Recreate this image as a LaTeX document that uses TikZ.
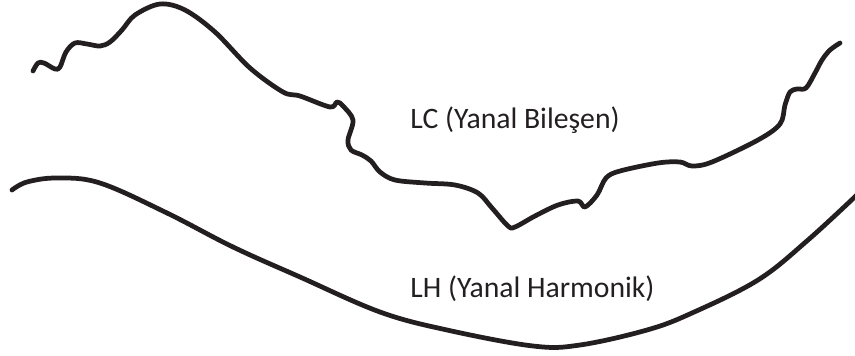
\documentclass[tikz,border=0pt]{standalone}
\usepackage{fontspec}
\setmainfont{Carlito}
\usepackage{xcolor}
\usepackage{tikz}
\definecolor{murekkep}{HTML}{231F20}

\begin{document}
\begin{tikzpicture}[
    x=0.02cm, y=-0.02cm,
    egri/.style={draw=murekkep, line width=2.7pt, line cap=round,
                 line join=round},
    etiket/.style={anchor=base west, inner sep=0pt, text=murekkep,
                   font=\fontsize{16.9}{19}\selectfont}
  ]
    \useasboundingbox (0,0) rectangle (855,355);
    % LC: yanal bilesen
    \draw[egri] plot[smooth, tension=0.55] coordinates {
      (33,71) (38,63) (44,63) (55,69) (60,67) (66,52) (75,43) (87,44)
      (100,46) (110,42) (122,30) (135,15) (160,4) (185,10) (215,32)
      (250,68) (283,92) (300,96) (330,107) (337,102) (343,106) (353,120)
      (348,140) (351,150) (362,155) (371,161) (380,172) (395,180)
      (425,183) (455,185) (478,193) (492,208) (508,226) (515,227)
      (535,216) (558,205) (578,201) (585,207) (597,195) (606,178)
      (620,171) (658,163) (680,162) (692,166) (712,162) (758,140)
      (780,124) (785,105) (790,92) (797,89) (806,88) (815,73) (822,60)
      (830,50) (840,43)};
    % LH: yanal harmonik
    \draw[egri] plot[smooth, tension=0.6] coordinates {
      (12,190) (27,182) (57,178) (100,183) (167,213) (233,247) (300,277)
      (380,312) (447,330) (533,346) (580,345) (647,330) (692,313)
      (758,280) (808,240) (860,192)};
    \node[etiket] (lc) at (410,128) {LC (Yanal Bileşen)};
    \node[etiket] (lh) at (410,297) {LH (Yanal Harmonik)};
  \end{tikzpicture}
\end{document}
